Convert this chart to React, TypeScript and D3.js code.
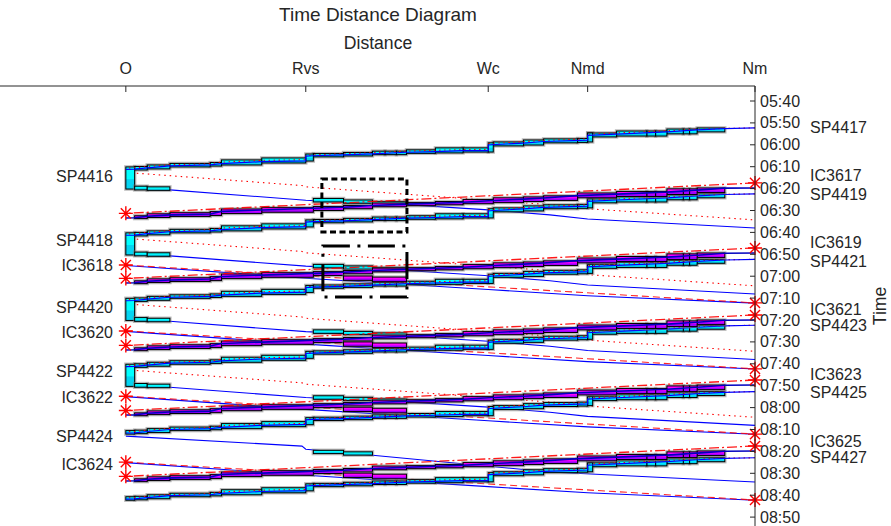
import React from "react";
import * as d3 from "d3";

type P = [number, number];
type B = [number, number, number, number];

// ---------- axes data ----------
const stationNames = ["O", "Rvs", "Wc", "Nmd", "Nm"];
const stationKm = [0, 7.15, 14.4, 18.35, 25.0];
const timeTickMin = [340, 350, 360, 370, 380, 390, 400, 410, 420, 430, 440, 450, 460, 470, 480, 490, 500, 510, 520, 530];
const timeTickLabels = ["05:40", "05:50", "06:00", "06:10", "06:20", "06:30", "06:40", "06:50", "07:00", "07:10", "07:20", "07:30", "07:40", "07:50", "08:00", "08:10", "08:20", "08:30", "08:40", "08:50"];

// ---------- SP trains Nm -> O (minutes after midnight at Nm) ----------
const spUpDep = [352.3, 382.4, 412.3, 442.4, 472.7, 502.9];
const spUpBlocks: B[] = [
  [22.7, 23.8, 0.0, 1.8], [22.4, 22.7, 0.5, 2.7], [22.15, 22.4, 0.5, 2.7], [21.5, 22.15, 0.5, 2.7],
  [21.05, 21.5, 1.4, 3.7], [20.7, 21.05, 1.4, 3.7], [19.5, 20.7, 1.4, 3.7], [18.35, 19.5, 2.3, 4.1],
  [18.35, 18.55, 2.3, 6.4], [17.95, 18.35, 4.8, 6.6], [16.6, 17.95, 5.0, 6.8], [15.8, 16.6, 5.5, 7.8],
  [14.6, 15.8, 6.4, 8.2], [14.4, 14.6, 6.8, 11.0], [13.4, 14.4, 9.1, 11.0], [12.3, 13.4, 9.1, 11.4],
  [11.15, 12.3, 10.0, 11.6], [10.75, 11.15, 10.6, 12.2], [10.3, 10.75, 10.6, 12.2], [9.8, 10.3, 10.6, 12.2],
  [8.65, 9.8, 11.2, 12.8], [7.45, 8.65, 11.7, 13.2], [7.15, 7.45, 11.9, 15.1], [5.4, 7.15, 13.7, 16.0],
  [3.8, 5.4, 14.6, 16.9], [3.35, 3.8, 15.8, 17.4], [1.75, 3.35, 16.2, 17.8], [0.85, 1.75, 16.9, 18.7],
  [0.35, 0.85, 17.6, 19.2],
];
const spUpPath: P[] = [
  [25, 0.0], [23.8, 0.3], [22.7, 0.9], [21.5, 1.8], [19.5, 2.8], [18.35, 3.4], [18.35, 5.6], [16.6, 6.2],
  [15.8, 6.9], [14.6, 7.6], [14.4, 7.8], [14.4, 10.4], [13.4, 10.4], [12.3, 10.8], [11.15, 11.1], [9.8, 11.8],
  [8.65, 12.3], [7.45, 12.7], [7.15, 12.9], [7.15, 15.0], [5.4, 15.4], [3.8, 16.3], [3.35, 16.9], [1.75, 17.3],
  [0.85, 18.2], [0.35, 18.8], [0, 18.9],
];
const spUpPlan: P[] = [
  [25, 0.0], [23.8, 0.2], [22.7, 0.6], [21.5, 1.3], [19.5, 2.3], [18.35, 2.9], [18.35, 5.0], [16.6, 5.7],
  [15.8, 6.3], [14.6, 7.0], [14.4, 7.2], [14.4, 9.8], [13.4, 9.9], [12.3, 10.2], [11.15, 10.6], [9.8, 11.3],
  [8.65, 11.8], [7.45, 12.3], [7.15, 12.5], [7.15, 14.5], [5.4, 14.8], [3.8, 15.6], [3.35, 16.4], [1.75, 16.8],
  [0.85, 17.6], [0.35, 18.2], [0, 18.3],
];
const spTurnBox: B = [0, 0.35, 17.8, 27.9];
const spEndBox: B = [0, 0.35, 17.8, 19.4];

// ---------- SP trains O -> Nm after turnaround (relative to the incoming train) ----------
const spDownRef = [352.3, 382.4, 412.3, 442.4];
const spDownPlan: P[] = [[0, 20.3], [7.0, 26.3], [7.15, 26.9], [14.4, 33.0], [18.35, 36.3], [18.5, 37.0], [25, 42.0]];
const spDownPath: P[] = [[0.35, 27.9], [1.75, 28.3], [7.15, 33.0], [8.65, 33.8], [11.15, 35.0], [14.4, 37.4], [16.85, 39.7], [18.35, 41.6], [25, 45.7]];
const spDownBlocks: B[] = [[0.35, 0.85, 26.6, 28.3], [0.85, 1.75, 26.9, 28.5], [7.45, 8.65, 32.2, 33.8], [8.65, 9.8, 32.9, 34.4], [9.8, 11.15, 33.6, 35.2]];
// SP4424 (no turnaround dwell)
const sp4424Path: P[] = [[0, 493.0], [7.0, 497.6], [7.15, 499.0], [8.65, 500.5], [16.85, 509.4], [25, 514.0]];
const sp4424Blocks: B[] = [[7.45, 8.65, 499.5, 501.0], [8.65, 9.8, 500.2, 501.7]];

// ---------- IC trains Nm -> O ----------
const icUpDep = [377.4, 407.1, 437.7, 467.4, 497.5];
const icUpPlan: P[] = [[25, 0], [0, 13.9]];
const icUpPath: P[] = [
  [25, 2.3], [23.8, 2.4], [22.7, 3.3], [21.5, 4.2], [19.5, 5.1], [17.95, 5.8], [16.6, 6.9], [15.8, 7.4],
  [14.6, 8.0], [13.4, 8.8], [12.3, 9.3], [11.15, 9.7], [9.8, 10.3], [8.65, 11.1], [7.45, 11.6], [5.4, 12.4],
  [3.8, 13.0], [3.35, 14.2], [1.75, 14.6], [0.85, 15.2], [0.35, 15.9], [0, 16.0],
];
const icUpBlocks: B[] = [
  [22.7, 23.8, 2.3, 4.4], [22.4, 22.7, 2.7, 5.3], [22.15, 22.4, 2.7, 5.3], [21.5, 22.15, 2.7, 5.3],
  [21.05, 21.5, 3.9, 6.2], [20.7, 21.05, 3.9, 6.2], [19.5, 20.7, 3.9, 6.2], [17.95, 19.5, 4.6, 6.8],
  [16.6, 17.95, 5.9, 8.0], [15.8, 16.6, 6.4, 8.5], [14.6, 15.8, 6.8, 9.0], [13.4, 14.6, 7.6, 9.5],
  [12.3, 13.4, 8.5, 10.0], [11.15, 12.3, 9.0, 10.4], [9.8, 11.15, 9.2, 10.9], [8.65, 9.8, 10.3, 11.8],
  [7.45, 8.65, 10.8, 12.6], [5.4, 7.45, 11.3, 13.4], [3.8, 5.4, 11.9, 14.0], [3.35, 3.8, 13.1, 14.9],
  [1.75, 3.35, 13.6, 15.3], [0.85, 1.75, 14.1, 15.8], [0.35, 0.85, 15.0, 16.3],
];

// ---------- IC trains O -> Nm ----------
const icDownDep = [414.9, 445.0, 474.8, 504.9];
const icDownPlan: P[] = [[0, 0], [25, 17.3]];
const icDownPath: P[] = [[0, 0.2], [7.15, 6.0], [14.4, 11.2], [18.35, 14.0], [25, 17.4]];
const icDownBlocks: B[] = [[8.65, 9.8, 5.0, 7.0], [9.8, 11.15, 5.5, 7.6]];

// ---------- conflict marks ----------
const conflictDashed: B = [7.79, 11.17, 375.6, 399.8];
const conflictDashDot: B = [7.83, 11.17, 406.2, 429.5];

// ---------- labels ----------
const rightLabelNames = ["SP4417", "IC3617", "SP4419", "IC3619", "SP4421", "IC3621", "SP4423", "IC3623", "SP4425", "IC3625", "SP4427"];
const rightLabelTimes = [352.3, 374.2, 382.9, 404.8, 413.1, 435.0, 442.7, 465.1, 472.9, 495.3, 503.0];
const leftLabelNames = ["SP4416", "SP4418", "IC3618", "SP4420", "IC3620", "SP4422", "IC3622", "SP4424", "IC3624"];
const leftLabelTimes = [374.7, 403.9, 415.3, 434.1, 445.9, 463.7, 475.6, 493.4, 505.8];

// ---------- scales ----------
const W = 891, H = 526;
const x = d3.scaleLinear().domain([-5, 25]).range([0, 755]);
const y = d3.scaleLinear().domain([333.15, 534.06]).range([86, 526]);
const lineGen = d3.line<P>().x((d) => x(d[0])).y((d) => y(d[1]));
const shift = (pts: P[], t0: number): P[] => pts.map((p) => [p[0], p[1] + t0] as P);

const FONT = "'Liberation Sans', Arial, sans-serif";
const TXT = "#262626";

function Blocks({ blocks, t0, fill, band, bandOpacity }: { blocks: B[]; t0: number; fill: string; band: string; bandOpacity: number }) {
  const r = blocks.map((b) => {
    const x0 = x(b[0]), x1 = x(b[1]), y0 = y(t0 + b[2]), y1 = y(t0 + b[3]);
    return { x0, y0, w: x1 - x0, h: y1 - y0 };
  });
  return (
    <g>
      {r.map((q, i) => (
        <rect key={"h" + i} x={q.x0} y={q.y0} width={q.w} height={q.h} fill="none" stroke="#777" strokeOpacity={0.5} strokeWidth={3.4} />
      ))}
      {r.map((q, i) => (
        <g key={"b" + i}>
          <rect x={q.x0} y={q.y0} width={q.w} height={q.h} fill={fill} />
          <rect x={q.x0} y={q.y0 + q.h * 0.55} width={q.w} height={q.h * 0.45} fill={band} opacity={bandOpacity} />
          <rect x={q.x0} y={q.y0} width={q.w} height={q.h} fill="none" stroke="#000" strokeWidth={1} />
        </g>
      ))}
    </g>
  );
}

function Star({ km, t }: { km: number; t: number }) {
  const cx = x(km), cy = y(t), r = 7, s = r * 0.72;
  const d = `M${cx - r},${cy}L${cx + r},${cy}M${cx},${cy - r}L${cx},${cy + r}M${cx - s},${cy - s}L${cx + s},${cy + s}M${cx - s},${cy + s}L${cx + s},${cy - s}`;
  return <path d={d} stroke="#ff0000" strokeWidth={1.4} fill="none" />;
}

function RectMark({ b, dash }: { b: B; dash: string }) {
  const x0 = x(b[0]), x1 = x(b[1]), y0 = y(b[2]), y1 = y(b[3]);
  return <path d={`M${x0},${y0}L${x1},${y0}L${x1},${y1}L${x0},${y1}Z`} fill="none" stroke="#000" strokeWidth={3} strokeDasharray={dash} />;
}

export default function App() {
  return (
    <svg width={W} height={H} style={{ position: "absolute", left: 0, top: 0, background: "#fff" }} fontFamily={FONT}>
      <rect width={W} height={H} fill="#fff" />

      {/* planned / actual thin lines under blocks */}
      {spDownRef.map((t0, i) => (
        <g key={"spd" + i}>
          <path d={lineGen(shift(spDownPlan, t0)) || ""} fill="none" stroke="#ff0000" strokeWidth={1.1} strokeDasharray="1.5,4" />
          <path d={lineGen(shift(spDownPath, t0)) || ""} fill="none" stroke="#0000ff" strokeWidth={1.1} />
        </g>
      ))}
      <path d={lineGen(sp4424Path) || ""} fill="none" stroke="#0000ff" strokeWidth={1.1} />
      {icDownDep.map((t0, i) => (
        <g key={"icd" + i}>
          <path d={lineGen(shift(icDownPath, t0)) || ""} fill="none" stroke="#0000ff" strokeWidth={1.1} />
          <path d={lineGen(shift(icDownPlan, t0)) || ""} fill="none" stroke="#ff0000" strokeWidth={1.1} strokeDasharray="7,4" opacity={0.85} />
        </g>
      ))}

      {/* SP up staircases */}
      {spUpDep.map((t0, i) => (
        <g key={"spu" + i}>
          <Blocks blocks={[...spUpBlocks, i < 4 ? spTurnBox : spEndBox]} t0={t0} fill="#00ffff" band="#1070d0" bandOpacity={0.3} />
          <path d={lineGen(shift(spUpPlan, t0)) || ""} fill="none" stroke="#ff0000" strokeWidth={1.1} strokeDasharray="1.5,3.5" />
          <path d={lineGen(shift(spUpPath, t0)) || ""} fill="none" stroke="#0000ff" strokeWidth={1.2} />
        </g>
      ))}
      {spDownRef.map((t0, i) => (
        <Blocks key={"spdb" + i} blocks={spDownBlocks} t0={t0} fill="#00ffff" band="#1070d0" bandOpacity={0.3} />
      ))}
      <Blocks blocks={sp4424Blocks} t0={0} fill="#00ffff" band="#1070d0" bandOpacity={0.3} />

      {/* IC up staircases */}
      {icUpDep.map((t0, i) => (
        <g key={"icu" + i}>
          <Blocks blocks={icUpBlocks} t0={t0} fill="#ff00ff" band="#4000ff" bandOpacity={0.5} />
          <path d={lineGen(shift(icUpPath, t0)) || ""} fill="none" stroke="#0000c0" strokeWidth={1.6} />
          <path d={lineGen(shift(icUpPlan, t0)) || ""} fill="none" stroke="#ff0000" strokeWidth={1.3} strokeDasharray="10,3,2,3" opacity={0.9} />
        </g>
      ))}
      {icDownDep.map((t0, i) => (
        <Blocks key={"icdb" + i} blocks={icDownBlocks} t0={t0} fill="#ff00ff" band="#4000ff" bandOpacity={0.5} />
      ))}

      {/* asterisks */}
      {icUpDep.map((t0, i) => (
        <g key={"su" + i}>
          <Star km={25} t={t0} />
          <Star km={0} t={t0 + icUpPlan[1][1]} />
        </g>
      ))}
      {icDownDep.map((t0, i) => (
        <g key={"sd" + i}>
          <Star km={0} t={t0} />
          <Star km={25} t={t0 + icDownPlan[1][1]} />
        </g>
      ))}

      {/* conflict rectangles */}
      <RectMark b={conflictDashed} dash="6,3.5" />
      <RectMark b={conflictDashDot} dash="27,7.5,3,7.5" />

      {/* top distance axis */}
      <line x1={x(-5)} x2={x(25)} y1={86} y2={86} stroke="#262626" strokeWidth={1} />
      {stationKm.map((k, i) => (
        <g key={"st" + i}>
          <line x1={x(k)} x2={x(k)} y1={86} y2={92} stroke="#262626" strokeWidth={1} />
          <text x={x(k)} y={68} textAnchor="middle" dominantBaseline="central" fontSize={16} fill={TXT}>{stationNames[i]}</text>
        </g>
      ))}
      <text x={378} y={43} textAnchor="middle" dominantBaseline="central" fontSize={17.6} fill={TXT}>Distance</text>
      <text x={378} y={14} textAnchor="middle" dominantBaseline="central" fontSize={19} fill={TXT}>Time Distance Diagram</text>

      {/* right time axis */}
      <line x1={x(25)} x2={x(25)} y1={86} y2={526} stroke="#262626" strokeWidth={1} />
      {timeTickMin.map((t, i) => (
        <g key={"tt" + i}>
          <line x1={x(25) - 5} x2={x(25)} y1={y(t)} y2={y(t)} stroke="#262626" strokeWidth={1} />
          <text x={x(25) + 5} y={y(t)} dominantBaseline="central" fontSize={16} fill={TXT}>{timeTickLabels[i]}</text>
        </g>
      ))}
      <text transform={`translate(880,${(86 + 526) / 2}) rotate(-90)`} textAnchor="middle" dominantBaseline="central" fontSize={17.6} fill={TXT}>Time</text>

      {/* train labels */}
      {rightLabelNames.map((n, i) => (
        <text key={"rl" + i} x={810} y={y(rightLabelTimes[i])} dominantBaseline="central" fontSize={16} fill={TXT}>{n}</text>
      ))}
      {leftLabelNames.map((n, i) => (
        <text key={"ll" + i} x={113} y={y(leftLabelTimes[i])} textAnchor="end" dominantBaseline="central" fontSize={16} fill={TXT}>{n}</text>
      ))}
    </svg>
  );
}
